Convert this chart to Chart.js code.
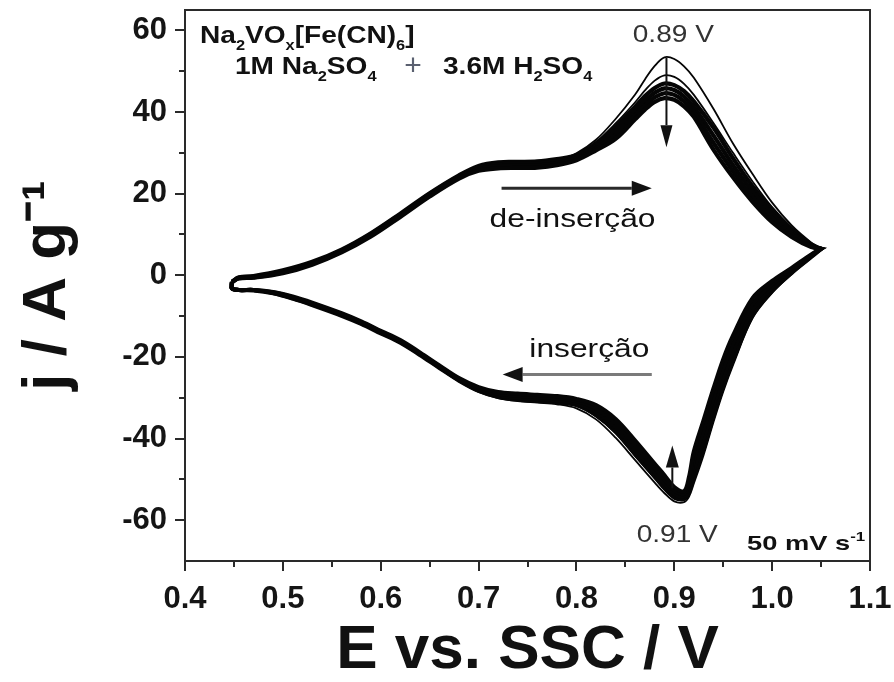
<!DOCTYPE html>
<html>
<head>
<meta charset="utf-8">
<script src="https://cdn.jsdelivr.net/npm/chart.js@4.4.0/dist/chart.umd.min.js"></script>
<style>
  html, body { margin: 0; padding: 0; background: #fff; }
  #wrap { width: 894px; height: 682px; }
</style>
</head>
<body>
<div id="wrap"><canvas id="cv"></canvas></div>
<script>
// potential grid (V) for the forward (anodic) and reverse (cathodic) sweep
const potentialAnodic = [0.448, 0.455, 0.47, 0.50, 0.53, 0.56, 0.59, 0.62, 0.65, 0.68, 0.70, 0.72, 0.74, 0.76, 0.78,
  0.80, 0.82, 0.84, 0.86, 0.87, 0.88, 0.89, 0.90, 0.91, 0.92, 0.94, 0.96, 0.98, 1.00, 1.02, 1.04, 1.05];
const potentialCathodic = [1.05, 1.04, 1.02, 1.00, 0.98, 0.96, 0.95, 0.94, 0.93, 0.92, 0.915, 0.91, 0.90, 0.89, 0.88,
  0.86, 0.84, 0.82, 0.80, 0.78, 0.76, 0.74, 0.72, 0.70, 0.68, 0.66, 0.64, 0.62, 0.60, 0.58, 0.56, 0.53, 0.51, 0.49,
  0.47, 0.455, 0.448];

// current density (A/g), one pair of arrays per cycle
const cycle1Anodic = [-1.8, -0.8, -0.5, 0.7, 2.8, 5.8, 9.8, 14.6, 19.6, 24.0, 26.2, 27.0, 27.1, 27.3, 28.1,
  29.9, 33.2, 38.3, 44.3, 48.0, 51.3, 53.4, 53.0, 51.2, 48.4, 40.8, 32.3, 24.8, 17.8, 12.2, 8.0, 6.5];
const cycle1Cathodic = [6.5, 4.3, 0.3, -4.3, -10.5, -22.0, -28.5, -36.0, -44.0, -51.0, -54.3, -55.6, -55.4, -53.4, -50.8,
  -45.3, -39.8, -35.3, -32.6, -31.6, -31.2, -30.8, -30.1, -28.6, -26.0, -22.8, -19.6, -16.6, -14.2, -11.9, -9.9, -7.3,
  -5.8, -4.5, -3.7, -3.6, -3.2];

const cycle2Anodic = [-1.7, -0.7, -0.4, 0.9, 3.0, 6.0, 10.0, 14.8, 19.8, 24.2, 26.5, 27.5, 27.6, 27.7, 28.3,
  29.7, 32.7, 37.2, 42.4, 45.3, 47.7, 49.0, 48.6, 46.9, 44.2, 37.3, 30.0, 23.0, 16.7, 11.7, 7.8, 6.5];
const cycle2Cathodic = [6.5, 4.4, 0.5, -4.0, -10.0, -21.5, -28.0, -35.4, -43.4, -50.3, -53.8, -55.1, -54.8, -52.6, -49.8,
  -44.3, -38.7, -34.6, -32.0, -31.2, -30.9, -30.5, -29.9, -28.4, -25.9, -22.7, -19.5, -16.5, -14.2, -11.9, -9.9, -7.3,
  -5.8, -4.5, -3.7, -3.6, -3.2];

const cycle3Anodic = [-1.6, -0.5, -0.2, 1.2, 3.3, 6.3, 10.3, 15.1, 20.1, 24.5, 26.8, 27.7, 27.8, 27.9, 28.5,
  29.4, 32.1, 36.4, 41.3, 43.9, 45.9, 47.0, 46.6, 45.1, 42.6, 36.2, 28.7, 21.8, 16.0, 11.2, 7.6, 6.5];
const cycle3Cathodic = [6.5, 4.5, 0.6, -3.8, -9.8, -20.8, -27.2, -34.5, -42.5, -49.5, -53.0, -54.7, -54.3, -52.0, -49.2,
  -43.8, -38.2, -34.2, -31.8, -31.1, -30.8, -30.5, -29.8, -28.3, -25.8, -22.7, -19.5, -16.5, -14.2, -11.9, -9.9, -7.3,
  -5.7, -4.4, -3.7, -3.6, -3.2];

const cycle4Anodic = [-1.6, -0.6, -0.3, 1.0, 3.1, 6.1, 10.1, 14.9, 19.9, 24.3, 26.4, 27.2, 27.3, 27.4, 28.0,
  29.0, 31.6, 35.4, 40.2, 42.7, 44.7, 45.8, 45.4, 43.8, 41.2, 34.3, 27.0, 20.5, 15.0, 10.6, 7.3, 6.5];
const cycle4Cathodic = [6.5, 4.7, 1.0, -3.0, -8.4, -18.8, -25.0, -32.2, -40.2, -47.5, -52.0, -54.1, -53.5, -51.0, -48.2,
  -42.7, -37.2, -33.4, -31.3, -30.6, -30.3, -30.0, -29.4, -28.0, -25.6, -22.5, -19.3, -16.3, -14.0, -11.7, -9.7, -7.1,
  -5.6, -4.3, -3.6, -3.6, -3.2];

const cycle5Anodic = [-1.6, -0.7, -0.5, 0.7, 2.8, 5.8, 9.8, 14.6, 19.6, 24.0, 26.0, 26.7, 26.8, 26.9, 27.5,
  28.6, 31.1, 34.4, 39.2, 41.6, 43.6, 44.6, 44.2, 42.6, 40.0, 32.5, 25.5, 19.2, 14.0, 10.0, 7.1, 6.5];
const cycle5Cathodic = [6.5, 4.9, 1.4, -2.2, -7.0, -16.8, -22.8, -30.0, -37.8, -45.3, -50.8, -53.5, -52.7, -50.0, -47.2,
  -41.6, -36.2, -32.6, -30.8, -30.1, -29.8, -29.5, -29.0, -27.7, -25.4, -22.3, -19.1, -16.1, -13.8, -11.5, -9.5, -6.9,
  -5.4, -4.2, -3.6, -3.6, -3.2];

const cycle6Anodic = [-1.7, -0.8, -0.6, 0.5, 2.6, 5.6, 9.5, 14.3, 19.3, 23.7, 25.6, 26.2, 26.3, 26.4, 27.0,
  28.2, 30.6, 33.4, 38.2, 40.6, 42.5, 43.4, 43.0, 41.4, 38.8, 30.8, 24.0, 18.0, 13.0, 9.4, 6.9, 6.5];
const cycle6Cathodic = [6.5, 5.1, 1.8, -1.4, -5.6, -14.8, -20.6, -27.8, -35.5, -43.2, -49.5, -52.9, -51.9, -49.0, -46.2,
  -40.5, -35.2, -31.8, -30.3, -29.6, -29.3, -29.0, -28.6, -27.4, -25.2, -22.1, -18.9, -15.9, -13.6, -11.3, -9.3, -6.7,
  -5.2, -4.1, -3.6, -3.6, -3.2];

const xTickValues = [0.4, 0.45, 0.5, 0.55, 0.6, 0.65, 0.7, 0.75, 0.8, 0.85, 0.9, 0.95, 1.0, 1.05, 1.1];
const yTickValues = [-60, -50, -40, -30, -20, -10, 0, 10, 20, 30, 40, 50, 60];

const FONT = '"Liberation Sans", Arial, Helvetica, sans-serif';

function isMajorX(v) { return Math.abs(v * 10 - Math.round(v * 10)) < 1e-6; }
function isMajorY(v) { return Math.round(v) % 20 === 0; }

function cycle(anodic, cathodic) {
  const pts = potentialAnodic.map((e, i) => ({ x: e, y: anodic[i] }))
    .concat(potentialCathodic.map((e, i) => ({ x: e, y: cathodic[i] })));
  pts.push({ x: potentialAnodic[0], y: anodic[0] });
  return pts;
}

function ds(anodic, cathodic, width) {
  return {
    data: cycle(anodic, cathodic),
    showLine: true,
    borderColor: '#050505',
    borderWidth: width,
    pointRadius: 0,
    tension: 0.35,
    fill: false
  };
}

function arrow(ctx, x1, y1, x2, y2, headLen, headW, lineColor, headColor, lw) {
  const ang = Math.atan2(y2 - y1, x2 - x1);
  const bx = x2 - headLen * Math.cos(ang), by = y2 - headLen * Math.sin(ang);
  ctx.strokeStyle = lineColor;
  ctx.lineWidth = lw;
  ctx.beginPath(); ctx.moveTo(x1, y1); ctx.lineTo(bx, by); ctx.stroke();
  ctx.fillStyle = headColor;
  ctx.beginPath();
  ctx.moveTo(x2, y2);
  ctx.lineTo(bx + headW / 2 * Math.sin(ang), by - headW / 2 * Math.cos(ang));
  ctx.lineTo(bx - headW / 2 * Math.sin(ang), by + headW / 2 * Math.cos(ang));
  ctx.closePath(); ctx.fill();
}

// text with sub/superscripts, stretched horizontally by sx
function rich(ctx, parts, x, y, size, weight, sx, color) {
  ctx.save();
  ctx.translate(x, y);
  ctx.scale(sx, 1);
  ctx.fillStyle = color;
  ctx.textAlign = 'left';
  ctx.textBaseline = 'alphabetic';
  let cx = 0;
  parts.forEach(([t, k]) => {
    const fs = k ? Math.round(size * 0.6) : size;
    ctx.font = weight + ' ' + fs + 'px ' + FONT;
    const dy = k === 'sub' ? size * 0.3 : k === 'sup' ? -size * 0.42 : 0;
    ctx.fillText(t, cx, dy);
    cx += ctx.measureText(t).width;
  });
  ctx.restore();
}

function label(ctx, text, x, y, size, weight, sx, color, align) {
  ctx.save();
  ctx.translate(x, y);
  ctx.scale(sx, 1);
  ctx.font = weight + ' ' + size + 'px ' + FONT;
  ctx.fillStyle = color;
  ctx.textAlign = align;
  ctx.textBaseline = 'alphabetic';
  ctx.fillText(text, 0, 0);
  ctx.restore();
}

const decor = {
  id: 'decor',
  afterDraw(chart) {
    const { ctx, chartArea: a, scales: { x, y } } = chart;
    ctx.save();
    // frame + ticks
    ctx.strokeStyle = '#2a2a2a';
    ctx.lineWidth = 2;
    ctx.strokeRect(a.left, a.top, a.right - a.left, a.bottom - a.top);
    ctx.beginPath();
    xTickValues.forEach(v => {
      const px = Math.round(x.getPixelForValue(v));
      const len = isMajorX(v) ? 10 : 6;
      ctx.moveTo(px, a.bottom); ctx.lineTo(px, a.bottom + len);
    });
    yTickValues.forEach(v => {
      const py = Math.round(y.getPixelForValue(v));
      const len = isMajorY(v) ? 10 : 6;
      ctx.moveTo(a.left, py); ctx.lineTo(a.left - len, py);
    });
    ctx.stroke();

    // peak arrows
    const X = v => x.getPixelForValue(v), Y = v => y.getPixelForValue(v);
    arrow(ctx, X(0.892), Y(53.3), X(0.892), Y(31.4), 22, 12, '#111', '#111', 2);
    arrow(ctx, X(0.898), Y(-52.2), X(0.898), Y(-41.7), 22, 13, '#111', '#111', 2);
    // sweep direction arrows
    arrow(ctx, X(0.7235), Y(21.3), X(0.877), Y(21.3), 20, 15, '#2a2a2a', '#111', 3);
    arrow(ctx, X(0.877), Y(-24.3), X(0.7246), Y(-24.3), 20, 15, '#7a7a7a', '#111', 3);

    label(ctx, '0.89 V', X(0.899), Y(57.2), 23, 'normal', 1.22, '#333', 'center');
    label(ctx, '0.91 V', X(0.903), Y(-65.4), 23, 'normal', 1.22, '#333', 'center');
    label(ctx, 'de-inserção', X(0.796), Y(11.8), 25, 'normal', 1.27, '#111', 'center');
    label(ctx, 'inserção', X(0.8132), Y(-20.1), 25, 'normal', 1.27, '#111', 'center');

    rich(ctx, [['50 mV s', 0], ['-1', 'sup']], 747, 550, 21, 'bold', 1.3, '#111');
    rich(ctx, [['Na', 0], ['2', 'sub'], ['VO', 0], ['x', 'sub'], ['[Fe(CN)', 0], ['6', 'sub'], [']', 0]],
      200, 43, 24, 'bold', 1.17, '#111');
    rich(ctx, [['1M Na', 0], ['2', 'sub'], ['SO', 0], ['4', 'sub']], 235, 74, 24, 'bold', 1.17, '#111');
    label(ctx, '+', 413, 75, 30, 'normal', 1.0, '#5a6070', 'center');
    rich(ctx, [['3.6M H', 0], ['2', 'sub'], ['SO', 0], ['4', 'sub']], 443, 74, 24, 'bold', 1.17, '#111');
    ctx.restore();
  }
};

const chart = new Chart(document.getElementById('cv').getContext('2d'), {
  type: 'scatter',
  data: {
    datasets: [
      ds(cycle6Anodic, cycle6Cathodic, 4.2),
      ds(cycle5Anodic, cycle5Cathodic, 4.2),
      ds(cycle4Anodic, cycle4Cathodic, 4.2),
      ds(cycle3Anodic, cycle3Cathodic, 4.2),
      ds(cycle2Anodic, cycle2Cathodic, 1.8),
      ds(cycle1Anodic, cycle1Cathodic, 1.8)
    ]
  },
  options: {
    responsive: true,
    maintainAspectRatio: false,
    animation: false,
    layout: { padding: { left: 0, right: 24, top: 10, bottom: 0 } },
    plugins: { legend: { display: false }, tooltip: { enabled: false } },
    scales: {
      x: {
        type: 'linear',
        min: 0.4,
        max: 1.1,
        afterBuildTicks: s => { s.ticks = xTickValues.map(v => ({ value: v })); },
        afterFit: s => { s.height = 121; s.paddingLeft = 0; s.paddingRight = 0; },
        ticks: {
          autoSkip: false,
          maxRotation: 0,
          padding: 10,
          color: '#151515',
          font: { family: FONT, size: 31, weight: 'bold' },
          callback: v => isMajorX(v) ? v.toFixed(1) : ''
        },
        grid: { drawOnChartArea: false, tickLength: 10, tickColor: 'rgba(0,0,0,0)' },
        border: { display: false },
        title: {
          display: true,
          text: 'E vs. SSC / V',
          color: '#111',
          font: { family: FONT, size: 62, weight: 'bold', lineHeight: 1 },
          padding: { top: 0, bottom: 0 }
        }
      },
      y: {
        type: 'linear',
        min: -70,
        max: 65,
        afterBuildTicks: s => { s.ticks = yTickValues.map(v => ({ value: v })); },
        afterFit: s => { s.width = 185; s.paddingTop = 0; s.paddingBottom = 0; },
        ticks: {
          autoSkip: false,
          padding: 8,
          color: '#151515',
          font: { family: FONT, size: 31, weight: 'bold' },
          callback: v => isMajorY(v) ? String(v) : ''
        },
        grid: { drawOnChartArea: false, tickLength: 10, tickColor: 'rgba(0,0,0,0)' },
        border: { display: false },
        title: {
          display: true,
          text: 'j / A g⁻¹',
          color: '#111',
          font: { family: FONT, size: 62, weight: 'bold', lineHeight: 1.2 },
          padding: { top: 11, bottom: 0 }
        }
      }
    }
  },
  plugins: [decor]
});
</script>
</body>
</html>
